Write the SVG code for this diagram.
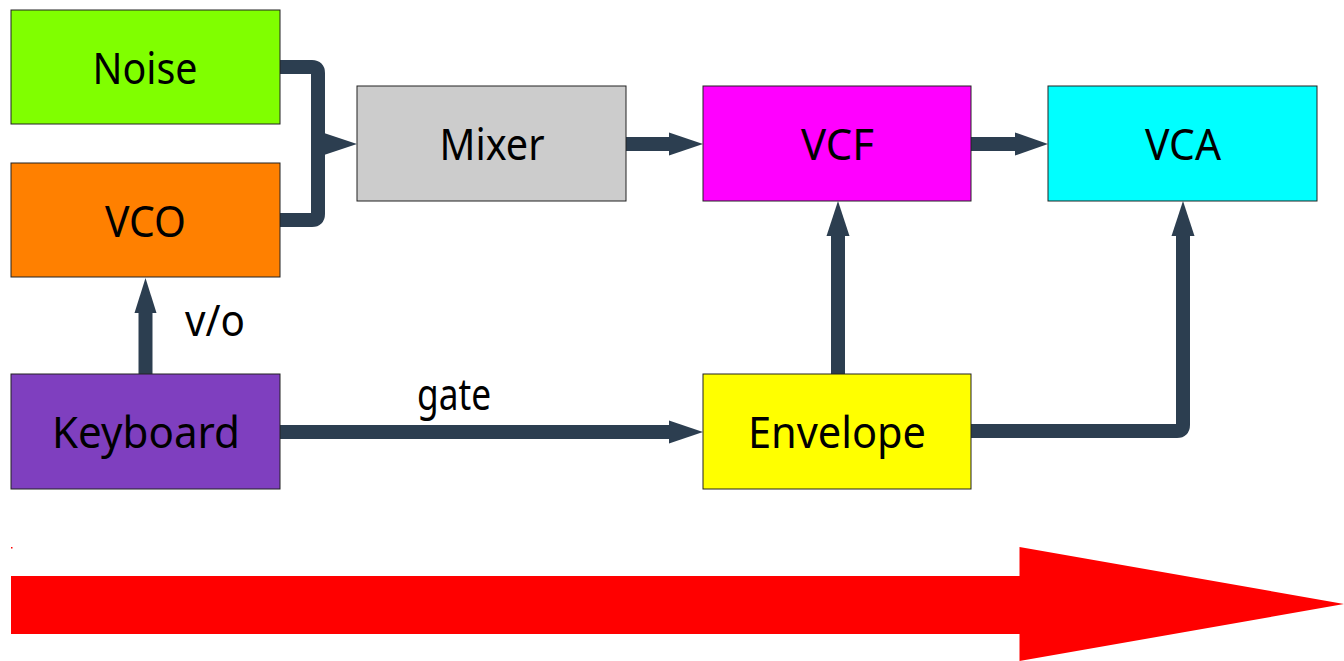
<svg xmlns="http://www.w3.org/2000/svg" width="1344" height="661" viewBox="0 0 1344 661">
<style>
.box{stroke:#222;stroke-width:1}
.lbl{font-family:"Noto Sans","Open Sans",sans-serif;font-size:43px;fill:#000;text-anchor:middle}
.con{fill:none;stroke:#2c3e50;stroke-width:14;stroke-linejoin:round}
.head{fill:#2c3e50}
</style>
<rect width="1344" height="661" fill="#fff"/>
<g id="connectors">
  <path class="con" d="M280,67 H312 Q318,67 318,73 V214 Q318,220 312,220 H280"/>
  <polygon class="head" points="324,133 357,144 324,155"/>
  <path class="con" d="M626,144 H670"/>
  <polygon class="head" points="669,132.5 703,144 669,155.5"/>
  <path class="con" d="M971,144 H1016"/>
  <polygon class="head" points="1015,132.5 1048,144 1015,155.5"/>
  <path class="con" d="M145.5,374 V311"/>
  <polygon class="head" points="134.5,313 145.5,278 156.5,313"/>
  <path class="con" d="M280,432 H670"/>
  <polygon class="head" points="669,420.5 703,432 669,443.5"/>
  <path class="con" d="M838,374 V234"/>
  <polygon class="head" points="826.5,236 838,201 849.5,236"/>
  <path class="con" d="M971,431 H1177 Q1183,431 1183,425 V234"/>
  <polygon class="head" points="1171.5,236 1183,201 1194.5,236"/>
  <text class="lbl" x="215" y="336" textLength="60" lengthAdjust="spacingAndGlyphs">v/o</text>
  <text class="lbl" x="454" y="410" textLength="74" lengthAdjust="spacingAndGlyphs">gate</text>
</g>
<g id="noise"><rect class="box" x="11" y="10" width="269" height="114" fill="#80ff00"/><text class="lbl" x="145" y="84" textLength="105" lengthAdjust="spacingAndGlyphs">Noise</text></g>
<g id="vco"><rect class="box" x="11" y="163" width="269" height="114" fill="#ff8000"/><text class="lbl" x="145.5" y="237" textLength="81" lengthAdjust="spacingAndGlyphs">VCO</text></g>
<g id="mixer"><rect class="box" x="357" y="86" width="269" height="115" fill="#cccccc"/><text class="lbl" x="492" y="160" textLength="105" lengthAdjust="spacingAndGlyphs">Mixer</text></g>
<g id="vcf"><rect class="box" x="703" y="86" width="268" height="115" fill="#ff00ff"/><text class="lbl" x="837.5" y="160" textLength="73" lengthAdjust="spacingAndGlyphs">VCF</text></g>
<g id="vca"><rect class="box" x="1048" y="86" width="269" height="115" fill="#00ffff"/><text class="lbl" x="1183" y="160" textLength="76" lengthAdjust="spacingAndGlyphs">VCA</text></g>
<g id="keyboard"><rect class="box" x="11" y="374" width="269" height="115" fill="#7f3fbf"/><text class="lbl" x="146" y="448" textLength="188" lengthAdjust="spacingAndGlyphs">Keyboard</text></g>
<g id="envelope"><rect class="box" x="703" y="374" width="268" height="115" fill="#ffff00"/><text class="lbl" x="837" y="448" textLength="178" lengthAdjust="spacingAndGlyphs">Envelope</text></g>
<g id="flow">
  <rect x="11" y="547" width="1.5" height="1.5" fill="#ff0000"/>
  <polygon points="11,576 1019.5,576 1019.5,547 1344,604 1019.5,661 1019.5,634 11,634" fill="#ff0000"/>
</g>
</svg>
